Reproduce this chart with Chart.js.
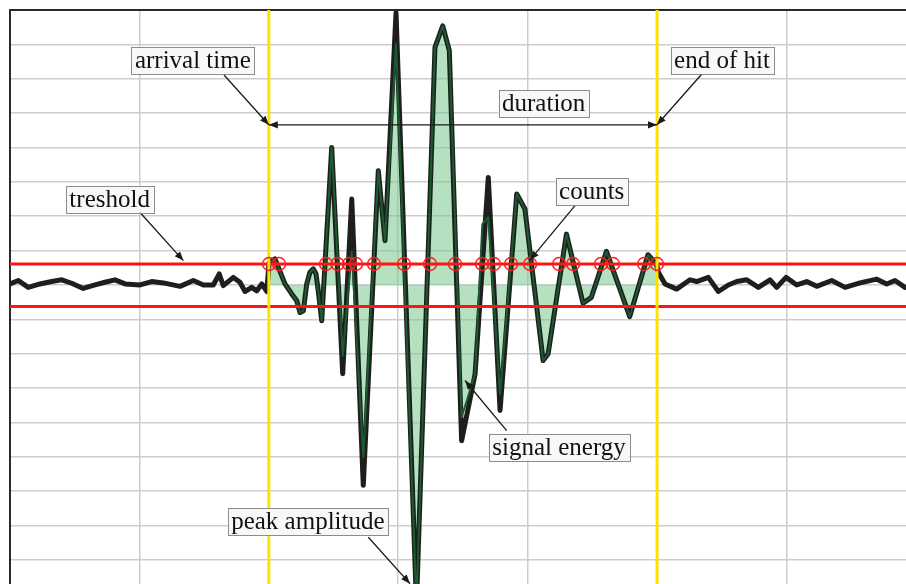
<!DOCTYPE html>
<html lang="en">
<head>
<meta charset="UTF-8">
<title>Acoustic emission hit parameters</title>
<script src="https://cdn.jsdelivr.net/npm/chart.js@4"></script>
<style>
  html, body { margin: 0; padding: 0; background: #fff; overflow: hidden; }
  .wrap { position: relative; width: 906px; height: 584px; }
</style>
</head>
<body>
<div class="wrap"><canvas id="hit"></canvas></div>
<script>
// time in µs, amplitude in arbitrary units (one grid step = 10)
const signalTime = [0, 6.4, 14.1, 23.2, 32.2, 40.0, 47.7, 56.6, 65.7, 73.4, 81.1, 88.9, 100.5, 109.5, 118.5, 131.4,
  141.7, 149.4, 157.1, 161.7, 164.8, 172.6, 177.7, 181.6, 186.8, 190.7, 194.6, 198.4, 200.2, 204.8, 212.5, 217.7,
  221.6, 224.1, 226.7, 229.3, 231.8, 234.4, 236.5, 238.2, 240.9, 248.6, 257.1, 264.1, 273.0, 284.6, 289.8, 298.3,
  314.1, 328.4, 334.4, 339.5, 349.0, 359.4, 369.6, 378.7, 391.6, 397.9, 412.0, 415.8, 430.0, 442.8, 449.3, 460.9,
  478.9, 493.0, 499.5, 501.0, 506.2, 515.2, 525.5, 530.7, 539.6, 547.4, 555.1, 561.6, 569.3, 578.3, 587.3, 592.5,
  599.7, 608.0, 615.7, 623.4, 635.0, 645.3, 656.9, 669.8, 677.5, 683.9, 691.6];
const signalAmp = [0.3, 1.3, -0.7, 0.3, 1.0, 1.5, 0.5, -1.0, 0, 0.8, 1.5, 0.3, 0, 1.0, 0.6, -0.4,
  1.3, 0, 0, 3.2, -0.2, 2.2, 0.8, -1.9, -0.7, -1.7, 0.3, -1.9, 6.5, 7.6, 0.3, -2.6,
  -4.6, -8.0, -7.5, 0.3, 3.7, 4.7, 3.2, -1.7, -10.4, 40.0, -25.8, 25.0, -58.3, 33.2, 12.9, 79.2,
  -93, 69.1, 75.4, 68.2, -45.3, -25.9, 31.3, -36.5, 26.5, 22.1, -22.0, -20.1, 14.8, -5.3, -3.6, 9.8,
  -9.2, 8.8, 6.1, 3.7, 0.3, -1.2, 1.5, 1.0, 2.2, -1.9, 0, 1.0, 1.5, -0.7, 1.5, -0.7,
  2.2, 0, 1.0, -0.4, 1.3, -0.7, 0.6, 1.7, 0.3, 1.3, -0.7];

// signal energy envelope, only inside the hit
const energyTime = [200, 204.8, 212.5, 217.7, 221.6, 224.1, 226.7, 229.3, 231.8, 234.4, 236.5, 238.2, 240.9, 248.6,
  257.1, 264.1, 273.0, 284.6, 289.8, 298.3, 314.1, 328.4, 334.4, 339.5, 349.0, 359.4, 365.0, 369.6, 378.7, 391.6,
  397.9, 412.0, 415.8, 430.0, 442.8, 449.3, 460.9, 478.9, 493.0, 499.5, 500];
const energyAmp = [6.5, 7.6, 0.3, -2.6, -4.6, -8.0, -7.5, 0.3, 3.7, 4.7, 3.2, -1.7, -10.4, 40.0,
  -20.6, 9.7, -50.0, 33.2, 12.9, 70.0, -93, 69.1, 75.4, 68.2, -38.5, -25.9, 17.7, 19.7, -31.7, 26.5,
  22.1, -22.0, -20.1, 14.8, -5.3, -3.6, 9.8, -9.2, 8.8, 6.1, 5.6];

// threshold crossings (counts)
const countTimes = [200.2, 207.9, 244.2, 253.1, 262.0, 267.4, 281.3, 304.5, 324.6, 343.9, 364.8, 374.0, 387.2,
  401.9, 424.3, 435.1, 456.7, 466.0, 490.0, 500.0];

const thresholdUp = 6.1;
const thresholdDown = -6.3;
const hitStart = 200;
const hitEnd = 500;
const timeRange = [0, 692.4];
const ampRange = [-87, 80];
const timeGrid = [0, 100, 200, 300, 400, 500, 600];
const ampGrid = [-80, -70, -60, -50, -40, -30, -20, -10, 0, 10, 20, 30, 40, 50, 60, 70, 80];

const pts = (xs, ys) => xs.map((t, i) => ({ x: t, y: ys[i] }));

// text labels with their arrows, in data coordinates
const notes = [
  { text: 'arrival time', at: [141.3, 65.4], from: [165.4, 61.1], to: [hitStart, 46.6] },
  { text: 'end of hit', at: [550.2, 65.3], from: [534.5, 61.3], to: [hitEnd, 46.6] },
  { text: 'duration', at: [412.4, 52.7] },
  { text: 'treshold', at: [77.0, 25.0], from: [100.5, 21.1], to: [134, 7.1] },
  { text: 'counts', at: [449.5, 27.1], from: [436.6, 23.1], to: [401.9, 7.3] },
  { text: 'signal energy', at: [424.3, -47.2], from: [383.8, -42.4], to: [351.6, -27.8] },
  { text: 'peak amplitude', at: [230.2, -68.8], from: [276.9, -73.4], to: [309.1, -86.9] }
];

function arrowHead(ctx, x1, y1, x2, y2) {
  const ang = Math.atan2(y2 - y1, x2 - x1);
  const len = 9, half = 3.6;
  ctx.beginPath();
  ctx.moveTo(x2, y2);
  ctx.lineTo(x2 - len * Math.cos(ang) + half * Math.sin(ang), y2 - len * Math.sin(ang) - half * Math.cos(ang));
  ctx.lineTo(x2 - len * Math.cos(ang) - half * Math.sin(ang), y2 - len * Math.sin(ang) + half * Math.cos(ang));
  ctx.closePath();
  ctx.fill();
}

const notesPlugin = {
  id: 'notes',
  afterDatasetsDraw(chart) {
    const { ctx } = chart;
    const x = chart.scales.x, y = chart.scales.y;
    ctx.save();
    ctx.strokeStyle = '#1a1a1a';
    ctx.fillStyle = '#1a1a1a';
    ctx.lineWidth = 1.3;

    // duration: double-headed arrow between arrival and end of hit
    const dy = y.getPixelForValue(46.6);
    const dx1 = x.getPixelForValue(hitStart), dx2 = x.getPixelForValue(hitEnd);
    ctx.beginPath();
    ctx.moveTo(dx1, dy);
    ctx.lineTo(dx2, dy);
    ctx.stroke();
    arrowHead(ctx, dx2, dy, dx1, dy);
    arrowHead(ctx, dx1, dy, dx2, dy);

    for (const n of notes) {
      if (!n.from) continue;
      const fx = x.getPixelForValue(n.from[0]), fy = y.getPixelForValue(n.from[1]);
      const tx = x.getPixelForValue(n.to[0]), ty = y.getPixelForValue(n.to[1]);
      ctx.beginPath();
      ctx.moveTo(fx, fy);
      ctx.lineTo(tx, ty);
      ctx.stroke();
      arrowHead(ctx, fx, fy, tx, ty);
    }

    ctx.font = '25px "Liberation Serif", "Times New Roman", serif';
    ctx.textAlign = 'center';
    ctx.textBaseline = 'middle';
    for (const n of notes) {
      const cx = x.getPixelForValue(n.at[0]), cy = y.getPixelForValue(n.at[1]);
      const w = ctx.measureText(n.text).width + 7, hgt = 27;
      ctx.fillStyle = '#f8f8f8';
      ctx.fillRect(cx - w / 2, cy - hgt / 2, w, hgt);
      ctx.strokeStyle = '#8c8c8c';
      ctx.lineWidth = 1;
      ctx.strokeRect(Math.round(cx - w / 2) + 0.5, Math.round(cy - hgt / 2) + 0.5, Math.round(w), hgt);
      ctx.fillStyle = '#111';
      ctx.fillText(n.text, cx, cy + 1);
    }
    ctx.restore();
  }
};

new Chart(document.getElementById('hit'), {
  type: 'line',
  data: {
    datasets: [
      {
        label: 'counts',
        data: countTimes.map(t => ({ x: t, y: thresholdUp })),
        showLine: false,
        pointRadius: 6.5,
        pointBorderWidth: 1.4,
        pointBorderColor: '#ff1a1a',
        pointBackgroundColor: 'rgba(0,0,0,0)'
      },
      {
        label: 'arrival',
        data: [{ x: hitStart, y: ampRange[0] }, { x: hitStart, y: ampRange[1] }],
        borderColor: '#ffe100',
        borderWidth: 3
      },
      {
        label: 'end',
        data: [{ x: hitEnd, y: ampRange[0] }, { x: hitEnd, y: ampRange[1] }],
        borderColor: '#ffe100',
        borderWidth: 3
      },
      {
        label: 'threshold +',
        data: [{ x: timeRange[0], y: thresholdUp }, { x: timeRange[1], y: thresholdUp }],
        borderColor: '#ff1414',
        borderWidth: 3
      },
      {
        label: 'threshold -',
        data: [{ x: timeRange[0], y: thresholdDown }, { x: timeRange[1], y: thresholdDown }],
        borderColor: '#ff1414',
        borderWidth: 3
      },
      {
        label: 'energy',
        data: pts(energyTime, energyAmp),
        borderColor: '#1c5a30',
        borderWidth: 2,
        fill: 'origin',
        backgroundColor: 'rgba(120, 200, 140, 0.55)'
      },
      {
        label: 'signal',
        data: pts(signalTime, signalAmp),
        borderColor: '#1e1e1e',
        borderWidth: 5
      }
    ]
  },
  options: {
    responsive: true,
    maintainAspectRatio: false,
    animation: false,
    layout: { autoPadding: false, padding: { left: 10, top: 10, right: 0, bottom: 0 } },
    elements: {
      point: { radius: 0 },
      line: { tension: 0, borderJoinStyle: 'round', borderCapStyle: 'round' }
    },
    plugins: {
      legend: { display: false },
      tooltip: { enabled: false },
      filler: { drawTime: 'beforeDatasetsDraw' }
    },
    scales: {
      x: {
        type: 'linear',
        position: 'top',
        bounds: 'data',
        min: timeRange[0],
        max: timeRange[1],
        afterBuildTicks: scale => { scale.ticks = timeGrid.map(v => ({ value: v })); },
        ticks: { display: false },
        grid: { color: '#cdcdcd', lineWidth: 1.5, drawTicks: false },
        border: { color: '#2a2a2a', width: 2 }
      },
      y: {
        bounds: 'data',
        min: ampRange[0],
        max: ampRange[1],
        afterBuildTicks: scale => { scale.ticks = ampGrid.map(v => ({ value: v })); },
        ticks: { display: false },
        grid: { color: '#cdcdcd', lineWidth: 1.5, drawTicks: false },
        border: { color: '#2a2a2a', width: 2 }
      }
    }
  },
  plugins: [notesPlugin]
});
</script>
</body>
</html>
